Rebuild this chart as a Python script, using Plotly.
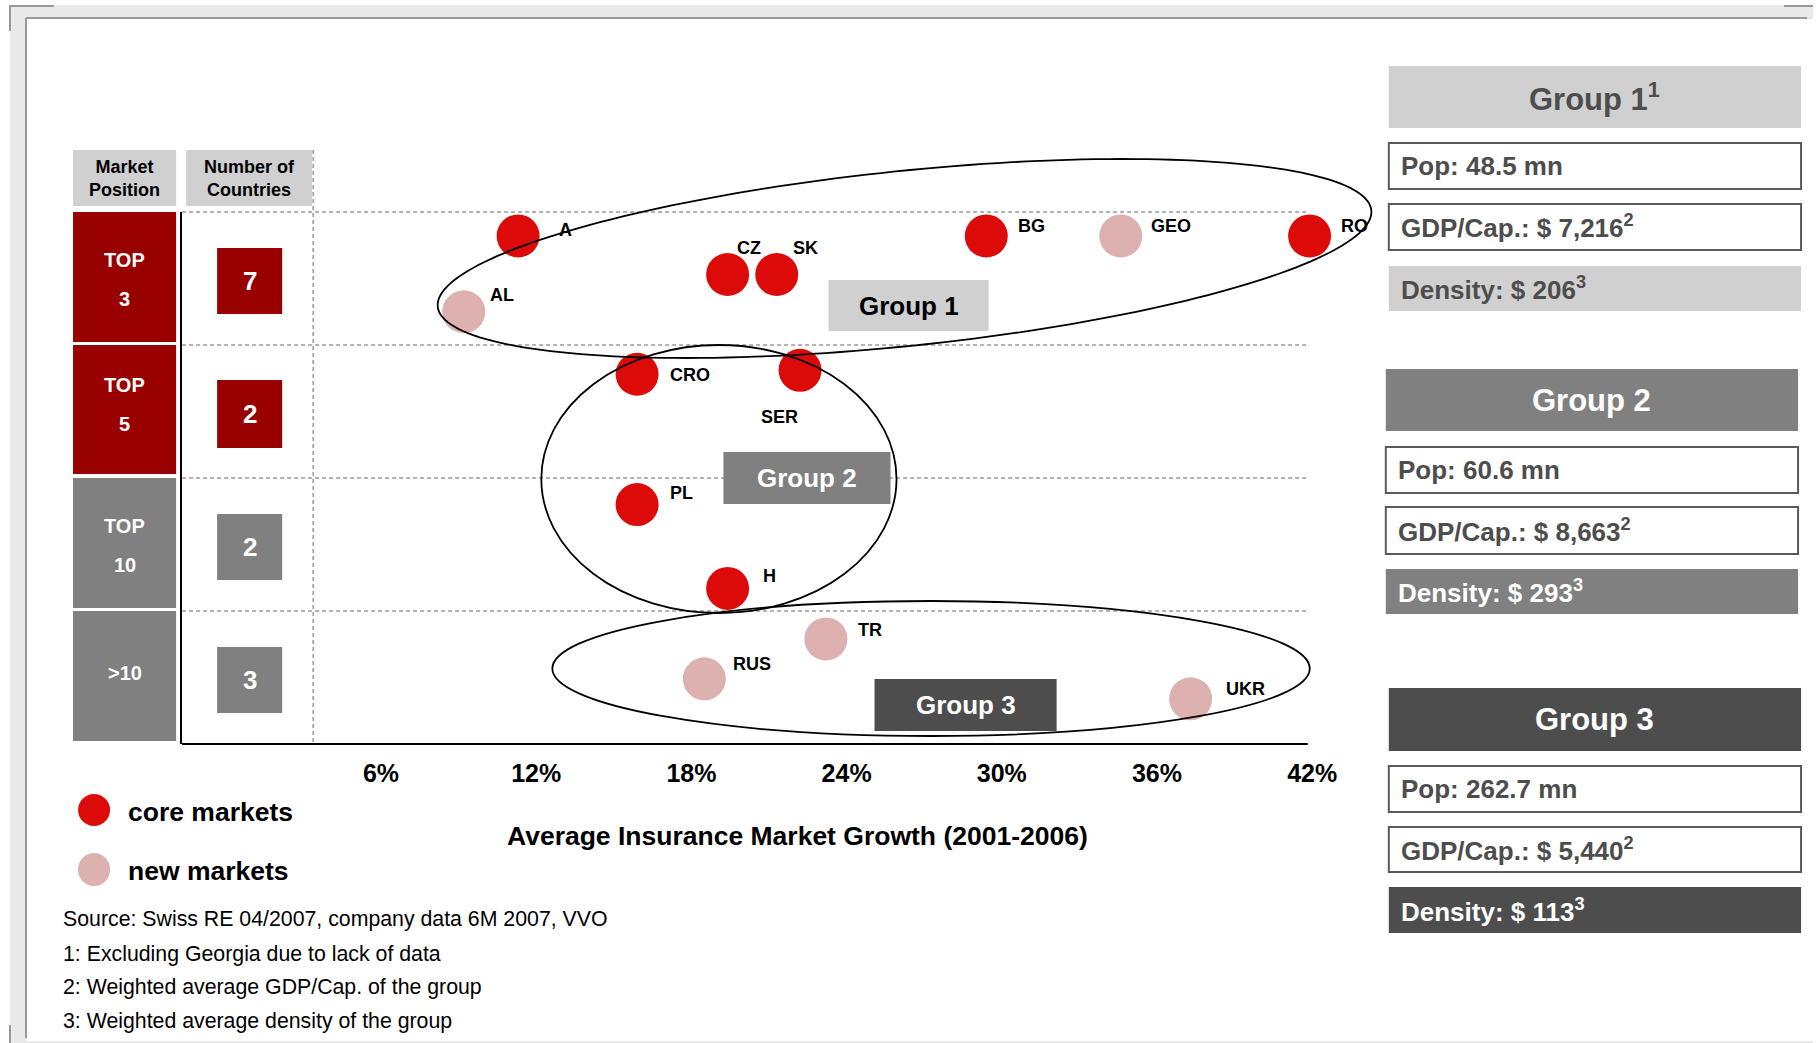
import numpy as np
import plotly.graph_objects as go

W, H = 1819, 1043
FONT = "Liberation Sans, Arial, sans-serif"

# ---------------- data ----------------
market_positions = ["TOP 3", "TOP 5", "TOP 10", ">10"]
countries_per_position = [7, 2, 2, 3]

countries = ["A", "AL", "CZ", "SK", "BG", "GEO", "RO", "CRO", "SER", "PL", "H", "TR", "RUS", "UKR"]
growth_pct = [11.3, 9.2, 19.4, 21.3, 29.4, 34.6, 41.9, 15.9, 22.2, 15.9, 19.4, 23.2, 18.5, 37.3]
position_score = [3.82, 3.25, 3.53, 3.53, 3.82, 3.82, 3.82, 2.78, 2.81, 1.80, 1.17, 0.79, 0.49, 0.34]
market_type = ["core", "new", "core", "core", "core", "new", "core",
               "core", "core", "core", "core", "new", "new", "new"]

x_tick_values = [6, 12, 18, 24, 30, 36, 42]
x_tick_labels = ["6%", "12%", "18%", "24%", "30%", "36%", "42%"]
x_title = "Average Insurance Market Growth (2001-2006)"

group_names = ["Group 1", "Group 2", "Group 3"]
group_name_notes = ["1", "", ""]
group_pop = ["48.5", "60.6", "262.7"]
group_gdp = ["7,216", "8,663", "5,440"]
group_density = ["206", "293", "113"]

legend_labels = ["core markets", "new markets"]
footnotes = [
    "Source: Swiss RE 04/2007, company data 6M 2007, VVO",
    "1: Excluding Georgia due to lack of data",
    "2: Weighted average GDP/Cap. of the group",
    "3: Weighted average density of the group",
]

# ---------------- styles / layout constants ----------------
CORE = "#dd0a0a"
NEW = "#deb1b1"
DARKRED = "#990000"
GRAY = "#808080"
LIGHT = "#d0d0d0"
DARK = "#4d4d4d"
TXT = "#4d4d4d"

SX = 1.0039                    # small horizontal compensation
X0, XS = 225.7, 25.85          # pixel of 0% and pixels per percentage point
PLOT_L, PLOT_R_AX, PLOT_R_DOM = 182, 1307, 1330
PLOT_T, PLOT_B = 212, 744

LABEL_OFFSETS = {  # pixel offsets of labels from marker centre (dx, dy screen)
    "A": (39, -6), "AL": (24, -17), "CZ": (7, -27), "SK": (14, -27),
    "BG": (30, -10), "GEO": (28, -10), "RO": (29, -10), "CRO": (31, 1),
    "SER": (-41, 47), "PL": (31, -12), "H": (33, -12), "TR": (30, -9),
    "RUS": (27, -15), "UKR": (33, -10),
}


def px(x):
    return x * SX / W


def py(y):
    return 1 - y / H


shapes = []
annotations = []


def rect(x0, y0, x1, y1, fill, line=None, lw=0, layer="above"):
    d = dict(type="rect", xref="paper", yref="paper", x0=px(x0), x1=px(x1),
             y0=py(y1), y1=py(y0), fillcolor=fill, layer=layer,
             line=dict(width=lw, color=line or fill))
    shapes.append(d)


def line(x0, y0, x1, y1, color, width, dash=None, layer="above"):
    d = dict(type="line", xref="paper", yref="paper", x0=px(x0), x1=px(x1),
             y0=py(y0), y1=py(y1), layer=layer,
             line=dict(color=color, width=width, dash=dash or "solid"))
    shapes.append(d)


def text(t, x, y, size, color="black", bold=True, xanchor="center"):
    annotations.append(dict(text=t, x=px(x), y=py(y), xref="paper", yref="paper",
                            showarrow=False, xanchor=xanchor, yanchor="middle",
                            font=dict(family=FONT, size=size, color=color,
                                      weight="bold" if bold else "normal")))


# ---- page frame ----
rect(10, 5, 1819 / SX, 1043, "#e9e9e9", layer="below")
rect(27, 19, 1812, 1041, "white", layer="below")
line(26, 18, 1806, 18, "#999999", 2, layer="below")
line(26, 18, 26, 1038, "#999999", 2, layer="below")
line(9, 6, 54, 6, "#999999", 2, layer="below")
line(10, 5, 10, 31, "#999999", 2, layer="below")
line(1783, 6, 1819 / SX, 6, "#999999", 2, layer="below")
line(10, 1025, 10, 1043, "#999999", 2, layer="below")

# ---- grid (dashed) ----
row_bounds = [PLOT_T + i * (PLOT_B - PLOT_T) / 4 for i in range(4)]
for yb in row_bounds:
    line(PLOT_L, yb, PLOT_R_AX, yb, "#9a9a9a", 1.5, dash="4px,3px")
line(313, 150, 313, PLOT_B, "#9a9a9a", 1.5, dash="4px,3px")
# x axis line
line(PLOT_L, PLOT_B, PLOT_R_AX, PLOT_B, "black", 2)

# ---- left table ----
rect(73, 150, 176, 206, LIGHT)
rect(186, 150, 312, 206, LIGHT)
text("Market<br>Position", 124.5, 178, 18)
text("Number of<br>Countries", 249, 178, 18)

row_boxes = [(212, 342), (345, 474), (478, 608), (611, 741)]
num_boxes = [(248, 314), (380, 448), (514, 580), (647, 713)]
pos_text_y = [[259.5, 298.5], [385, 424.5], [525.5, 565], [673]]
row_colors = [DARKRED, DARKRED, GRAY, GRAY]
for i, pos in enumerate(market_positions):
    y0, y1 = row_boxes[i]
    rect(73, y0, 176, y1, row_colors[i])
    parts = pos.split(" ")
    for part, ty in zip(parts, pos_text_y[i]):
        text(part, 124.5, ty, 20, "white")
    n0, n1 = num_boxes[i]
    rect(217, n0, 282, n1, row_colors[i])
    text(str(countries_per_position[i]), 249.5, (n0 + n1) / 2, 26, "white")


# ---- group ellipses ----
def ellipse_path(cx, cy, a, b, deg, n=200):
    th = np.radians(deg)
    t = np.linspace(0, 2 * np.pi, n, endpoint=False)
    u, v = a * np.cos(t), b * np.sin(t)
    xs = cx + u * np.cos(th) - v * np.sin(th)
    ys = cy - (u * np.sin(th) + v * np.cos(th))
    pts = [f"{px(x):.5f},{py(y):.5f}" for x, y in zip(xs, ys)]
    return "M " + " L ".join(pts) + " Z"


# ---- group label boxes in the plot ----
rect(828, 280, 988, 331, LIGHT)
text("Group 1", 908, 305.5, 26, "black")
rect(723, 452, 890, 504, GRAY)
text("Group 2", 806.5, 478, 26, "white")
rect(874, 679, 1056, 731, DARK)
text("Group 3", 965, 705, 26, "white")

shapes.append(dict(type="path", xref="paper", yref="paper",
                   path=ellipse_path(904, 258.5, 469, 87.5, 5.9),
                   line=dict(color="black", width=1.8), layer="above"))
shapes.append(dict(type="circle", xref="paper", yref="paper",
                   x0=px(541), x1=px(896), y0=py(613), y1=py(345),
                   line=dict(color="black", width=1.8), layer="above"))
shapes.append(dict(type="circle", xref="paper", yref="paper",
                   x0=px(552), x1=px(1309), y0=py(736), y1=py(601),
                   line=dict(color="black", width=1.8), layer="above"))

# ---- right panel ----
panel_x = [(1388, 1800), (1385, 1797), (1388, 1800)]
panel_y = [
    [(66, 128), (143, 189), (204, 250), (266, 311)],
    [(369, 431), (447, 493), (507, 554), (569, 614)],
    [(688, 751), (766, 812), (827, 872), (887, 933)],
]
head_fill = [LIGHT, GRAY, DARK]
head_txt = [TXT, "white", "white"]
for g in range(3):
    x0, x1 = panel_x[g]
    (h0, h1), (p0, p1), (g0, g1), (d0, d1) = panel_y[g]
    rect(x0, h0, x1, h1, head_fill[g])
    name = group_names[g] + (f"<sup>{group_name_notes[g]}</sup>" if group_name_notes[g] else "")
    text(name, (x0 + x1) / 2, (h0 + h1) / 2, 31, head_txt[g])
    rect(x0, p0, x1, p1, "white", "#5a5a5a", 2)
    text(f"Pop: {group_pop[g]} mn", x0 + 10, (p0 + p1) / 2, 26, TXT, xanchor="left")
    rect(x0, g0, x1, g1, "white", "#5a5a5a", 2)
    text(f"GDP/Cap.: $ {group_gdp[g]}<sup>2</sup>", x0 + 10, (g0 + g1) / 2, 26, TXT, xanchor="left")
    rect(x0, d0, x1, d1, head_fill[g])
    text(f"Density: $ {group_density[g]}<sup>3</sup>", x0 + 10, (d0 + d1) / 2, 26, head_txt[g], xanchor="left")

# ---- legend ----
shapes.append(dict(type="circle", xref="paper", yref="paper", x0=px(78), x1=px(110),
                   y0=py(826), y1=py(794), fillcolor=CORE, line=dict(width=0)))
shapes.append(dict(type="circle", xref="paper", yref="paper", x0=px(78), x1=px(110),
                   y0=py(886), y1=py(853), fillcolor=NEW, line=dict(width=0)))
text(legend_labels[0], 126, 812, 26.5, "black", xanchor="left")
text(legend_labels[1], 126, 871, 26.5, "black", xanchor="left")

# ---- axis title & footnotes ----
text(x_title, 797, 836, 26.5, "black")
for i, fn in enumerate(footnotes):
    text(fn, 61, [919, 954, 987, 1021][i], 21.3, "black", bold=False, xanchor="left")

# ---- traces ----
fig = go.Figure()
for typ, color, name in [("core", CORE, legend_labels[0]), ("new", NEW, legend_labels[1])]:
    idx = [i for i, t in enumerate(market_type) if t == typ]
    fig.add_trace(go.Scatter(
        x=[growth_pct[i] for i in idx], y=[position_score[i] for i in idx],
        text=[countries[i] for i in idx], mode="markers", name=name,
        marker=dict(size=43, color=color, line=dict(width=0)),
        cliponaxis=False, showlegend=False, hoverinfo="text"))

for c, gx, gy in zip(countries, growth_pct, position_score):
    dx, dy = LABEL_OFFSETS[c]
    annotations.append(dict(text=c, x=gx, y=gy, xref="x", yref="y", showarrow=False,
                            xanchor="left", yanchor="middle", xshift=dx * SX, yshift=-dy,
                            font=dict(family=FONT, size=18, color="black", weight="bold")))

fig.update_layout(
    width=W, height=H, autosize=False, margin=dict(l=0, r=0, t=0, b=0),
    paper_bgcolor="white", plot_bgcolor="rgba(0,0,0,0)",
    showlegend=False, font=dict(family=FONT),
    xaxis=dict(domain=[px(PLOT_L), px(PLOT_R_DOM)],
               range=[(PLOT_L - X0) / XS, (PLOT_R_DOM - X0) / XS],
               tickvals=x_tick_values, ticktext=x_tick_labels, ticks="",
               showgrid=False, zeroline=False, showline=False,
               tickfont=dict(family=FONT, size=25, color="black", weight="bold"),
               ticklabelstandoff=12, fixedrange=True),
    yaxis=dict(domain=[py(PLOT_B), py(PLOT_T)], range=[0, 4],
               showgrid=False, zeroline=False, showticklabels=False, ticks="",
               showline=True, linecolor="black", linewidth=2, fixedrange=True),
    shapes=shapes, annotations=annotations,
)

fig.write_html(
    "out.html",
    config={"displayModeBar": False, "responsive": False},
    post_script=("document.documentElement.style.margin='0';"
                 "document.documentElement.style.overflow='hidden';"
                 "document.body.style.margin='0';"
                 "document.body.style.overflow='hidden';"),
)
